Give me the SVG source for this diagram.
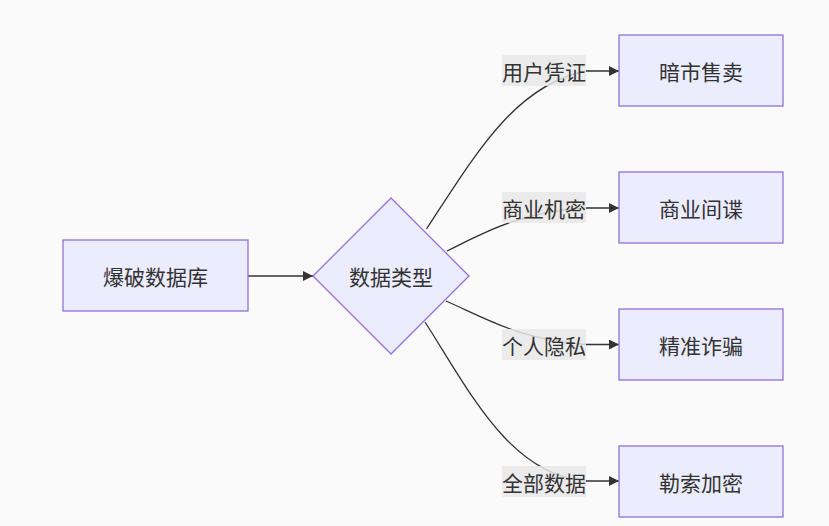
<svg xmlns="http://www.w3.org/2000/svg" width="829" height="526" viewBox="0 0 829 526">
<style>
.node{fill:#ECECFF;stroke:#9370DB;stroke-width:1.3px}
.t{font-family:"Noto Sans CJK SC","Noto Sans",sans-serif;font-size:21px;fill:#333;text-anchor:middle;dominant-baseline:central}
.e{fill:none;stroke:#333;stroke-width:1.3px}
.lb{fill:rgba(232,232,232,0.85)}
</style>
<defs>
<marker id="ah" viewBox="0 0 10 10" refX="10" refY="5" markerUnits="userSpaceOnUse" markerWidth="10" markerHeight="10" orient="auto">
<path d="M0,0 L10,5 L0,10 z" fill="#333"/>
</marker>
</defs>
<rect width="829" height="526" fill="#fafafa"/>
<g id="edges">
<path class="e" d="M248,276 L313,276" marker-end="url(#ah)"/>
<path class="e" d="M426.5,229 C475,155 515,85 586,71 L619,71" marker-end="url(#ah)"/>
<path class="e" d="M447,251 C485,232 520,212 586,208 L619,208" marker-end="url(#ah)"/>
<path class="e" d="M446,301 C485,318 520,340 586,344.5 L619,344.5" marker-end="url(#ah)"/>
<path class="e" d="M425,322 C470,392 510,475 586,481 L619,481" marker-end="url(#ah)"/>
</g>
<g id="edge-labels">
<g id="l1"><rect class="lb" x="502" y="55" width="84" height="31"/><text class="t" x="544" y="70.5">用户凭证</text></g>
<g id="l2"><rect class="lb" x="502" y="192" width="84" height="31"/><text class="t" x="544" y="207.5">商业机密</text></g>
<g id="l3"><rect class="lb" x="502" y="329" width="84" height="31"/><text class="t" x="544" y="344.5">个人隐私</text></g>
<g id="l4"><rect class="lb" x="502" y="466" width="84" height="31"/><text class="t" x="544" y="481.5">全部数据</text></g>
</g>
<g id="A"><rect class="node" x="63" y="240" width="185" height="71"/><text class="t" x="155.5" y="275.5">爆破数据库</text></g>
<g id="B"><polygon class="node" points="391,198 469,276 391,354 313,276"/><text class="t" x="391" y="276">数据类型</text></g>
<g id="C"><rect class="node" x="619" y="35" width="164" height="71"/><text class="t" x="701" y="70.5">暗市售卖</text></g>
<g id="D"><rect class="node" x="619" y="172" width="164" height="71"/><text class="t" x="701" y="207.5">商业间谍</text></g>
<g id="E"><rect class="node" x="619" y="309" width="164" height="71"/><text class="t" x="701" y="344.5">精准诈骗</text></g>
<g id="F"><rect class="node" x="619" y="446" width="164" height="71"/><text class="t" x="701" y="481.5">勒索加密</text></g>
</svg>
